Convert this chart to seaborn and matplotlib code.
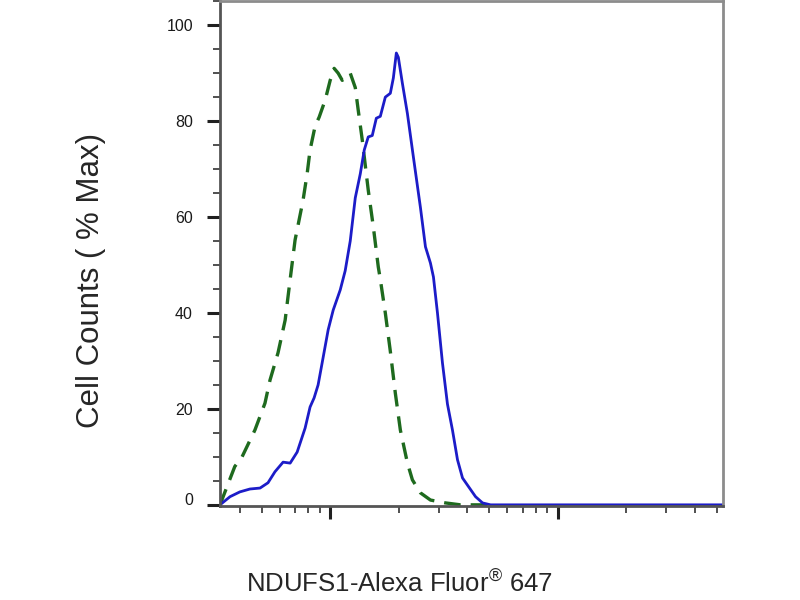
import numpy as np
import pandas as pd
import matplotlib
matplotlib.use('Agg')
import matplotlib.pyplot as plt
import matplotlib.transforms as mtransforms
from matplotlib.ticker import LogLocator, NullFormatter, MultipleLocator
import seaborn as sns

# Histogram traces (fluorescence intensity vs % of max)
sample_x = [328, 363, 401, 444, 492, 533, 572, 621, 667, 716, 776, 816, 850, 885,
            922, 980, 1031, 1107, 1164, 1225, 1289, 1356, 1412, 1470, 1531, 1595,
            1661, 1747, 1838, 1895, 1953, 1993, 2076, 2184, 2321, 2492, 2622, 2758,
            2843, 2961, 3114, 3276, 3446, 3626, 3815, 4054, 4353, 4673, 5069,
            15470, 53330]
sample_y = [0.0, 1.7, 2.7, 3.3, 3.5, 4.6, 6.9, 8.9, 8.7, 11.0, 16.0, 20.4, 22.3, 25.0,
            29.6, 36.5, 40.6, 44.8, 48.8, 55.0, 64.0, 69.0, 74.0, 76.7, 77.0, 80.6,
            81.0, 85.0, 85.8, 89.0, 94.2, 93.3, 87.9, 81.6, 72.5, 62.0, 53.8, 50.4,
            47.5, 40.0, 29.6, 21.0, 15.6, 9.4, 5.6, 3.8, 1.7, 0.4, 0.0,
            0.0, 0.0]

control_x = [328, 345, 381, 410, 467, 517, 544, 590, 634, 667, 701, 760, 792, 816,
             859, 894, 951, 1000, 1041, 1084, 1130, 1164, 1225, 1289, 1328, 1384,
             1470, 1547, 1627, 1661, 1747, 1838, 1933, 2034, 2184, 2298, 2492, 2758,
             3211, 3738, 5069]
control_y = [0.0, 2.7, 8.0, 10.0, 15.6, 21.2, 26.0, 31.7, 38.5, 47.0, 55.2, 63.5, 69.0, 74.0,
             79.0, 80.8, 84.4, 88.5, 91.0, 90.0, 88.5, 89.0, 90.0, 87.0, 82.3, 76.0,
             65.6, 58.0, 49.6, 47.0, 40.0, 32.0, 23.3, 15.6, 8.75, 5.2, 2.5, 1.0,
             0.4, 0.0, 0.0]

y_ticks = [0, 20, 40, 60, 80, 100]
x_label = 'NDUFS1-Alexa Fluor$^{®}$ 647'
y_label = 'Cell Counts ( % Max)'

sample = pd.DataFrame({'x': sample_x, 'y': sample_y})
control = pd.DataFrame({'x': control_x, 'y': control_y})

sns.set_style('ticks')
plt.rcParams['font.family'] = ['Liberation Sans', 'DejaVu Sans']
plt.rcParams['mathtext.fontset'] = 'custom'
plt.rcParams['mathtext.rm'] = 'Liberation Sans'

fig = plt.figure(figsize=(8, 6), dpi=100)
ax = fig.add_axes([0.275, 0.157, 0.629, 0.841])

sns.lineplot(data=control, x='x', y='y', ax=ax, color='#1e6a1e', linewidth=2.4,
             linestyle=(0, (5, 3)), estimator=None, sort=False)
sns.lineplot(data=sample, x='x', y='y', ax=ax, color='#1c1cc8', linewidth=2.0,
             estimator=None, sort=False)

ax.set_xscale('log')
ax.set_xlim(328, 53330)
ax.set_ylim(-0.2, 105)

# x axis: decade ticks without labels
ax.xaxis.set_major_locator(LogLocator(base=10, numticks=10))
ax.xaxis.set_minor_locator(LogLocator(base=10, subs=np.arange(2, 10), numticks=20))
ax.xaxis.set_major_formatter(NullFormatter())
ax.xaxis.set_minor_formatter(NullFormatter())

ax.set_yticks(y_ticks)
ax.yaxis.set_minor_locator(MultipleLocator(5))
ax.tick_params(axis='both', which='major', direction='out', length=9.5, width=2.2,
               color='#202020')
ax.tick_params(axis='both', which='minor', direction='out', length=5, width=1.1,
               color='#202020')
ax.tick_params(axis='y', which='major', labelsize=11.5, pad=10, labelcolor='#1a1a1a')

# the "0" label sits a little above its tick
for lbl in ax.get_yticklabels():
    if lbl.get_text() == '0':
        lbl.set_transform(lbl.get_transform() +
                          mtransforms.ScaledTranslation(0, 6 / 100, fig.dpi_scale_trans))

for side in ['left', 'bottom']:
    ax.spines[side].set_color('#555555')
    ax.spines[side].set_linewidth(2.0)
for side in ['top', 'right']:
    ax.spines[side].set_visible(True)
    ax.spines[side].set_color('#8c8c8c')
    ax.spines[side].set_linewidth(2.0)

ax.set_xlabel('')
ax.set_ylabel('')
fig.text(0.5, 0.014, x_label, ha='center', va='baseline', fontsize=18.5)
fig.text(0.114, 0.532, y_label, ha='center', va='center', rotation=90, fontsize=22.5)

fig.savefig('out.png', dpi=100)
